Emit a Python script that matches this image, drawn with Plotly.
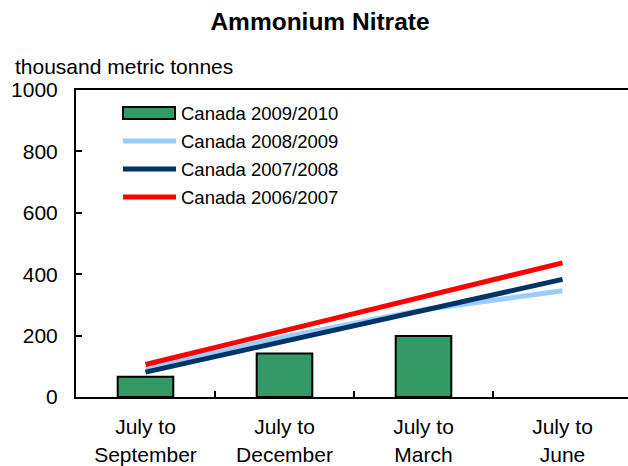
import plotly.graph_objects as go

categories = ["July to<br>September", "July to<br>December", "July to<br>March", "July to<br>June"]

canada_2009_2010 = [66, 142, 199, None]
canada_2008_2009 = [94, 196, 284, 346]
canada_2007_2008 = [81, 182, 282, 383]
canada_2006_2007 = [106, 216, 327, 437]

series_names = ["Canada 2009/2010", "Canada 2008/2009", "Canada 2007/2008", "Canada 2006/2007"]
series_colors = ["#339966", "#99ccff", "#003366", "#ff0000"]

title_text = "Ammonium Nitrate"
y_title = "thousand metric tonnes"
y_ticks = [0, 200, 400, 600, 800, 1000]

FONT = "Liberation Sans, Arial, Helvetica, sans-serif"

fig = go.Figure()
fig.add_trace(go.Bar(
    x=categories, y=canada_2009_2010, name=series_names[0],
    marker=dict(color=series_colors[0], line=dict(color="black", width=2)),
    width=0.4, showlegend=False,
))
for vals, name, col in [(canada_2008_2009, series_names[1], series_colors[1]),
                        (canada_2007_2008, series_names[2], series_colors[2]),
                        (canada_2006_2007, series_names[3], series_colors[3])]:
    fig.add_trace(go.Scatter(x=categories, y=vals, name=name, mode="lines",
                             line=dict(color=col, width=5), showlegend=False))

# custom legend (paper coordinates)
W, H = 628, 466
ML, MR, MT, MB = 76, 0, 90, 69
pw = W - ML - MR
ph = H - MT - MB
def px(x):
    return (x - ML) / pw
def py(y):
    return (H - MB - y) / ph

row_y = [113, 141, 169, 197]
shapes = []
annotations = []
for i, (name, col) in enumerate(zip(series_names, series_colors)):
    yc = row_y[i]
    if i == 0:
        shapes.append(dict(type="rect", xref="paper", yref="paper",
                           x0=px(123), x1=px(175), y0=py(yc + 6), y1=py(yc - 6),
                           fillcolor=col, line=dict(color="black", width=2)))
    else:
        shapes.append(dict(type="line", xref="paper", yref="paper",
                           x0=px(123), x1=px(176), y0=py(yc), y1=py(yc),
                           line=dict(color=col, width=5)))
    annotations.append(dict(text=name, xref="paper", yref="paper",
                            x=px(179), y=py(yc), xanchor="left", yanchor="middle",
                            showarrow=False, font=dict(size=18.5, color="black", family=FONT)))

annotations.append(dict(text=y_title, xref="paper", yref="paper",
                        x=px(13), y=py(67), xanchor="left", yanchor="middle",
                        showarrow=False, font=dict(size=21, color="black", family=FONT)))

fig.update_layout(
    width=W, height=H,
    margin=dict(l=ML, r=MR, t=MT, b=MB),
    paper_bgcolor="white", plot_bgcolor="white",
    font=dict(family=FONT, color="black", size=21),
    title=dict(text="<b>" + title_text + "</b>", x=320 / W, xanchor="center",
               y=1 - 21 / H, yanchor="middle", yref="container",
               font=dict(size=24.5, family=FONT, color="black")),
    shapes=shapes, annotations=annotations,
    xaxis=dict(type="category", range=[-0.5, -0.5 + pw / 139.0],
               showline=True, linecolor="black", linewidth=2, mirror=True,
               ticks="inside", tickson="boundaries", ticklen=6, tickwidth=2, tickcolor="black",
               showgrid=False, zeroline=False, tickfont=dict(size=21, family=FONT),
               ticklabelstandoff=10),
    yaxis=dict(range=[0, 1000], tickvals=y_ticks, showline=True, linecolor="black", linewidth=2,
               ticks="inside", ticklen=6, tickwidth=2, tickcolor="black",
               showgrid=False, zeroline=False, tickfont=dict(size=21, family=FONT),
               ticklabelstandoff=12),
)

fig.write_html("out.html", config={"displayModeBar": False},
               post_script="document.body.style.margin='0';")
